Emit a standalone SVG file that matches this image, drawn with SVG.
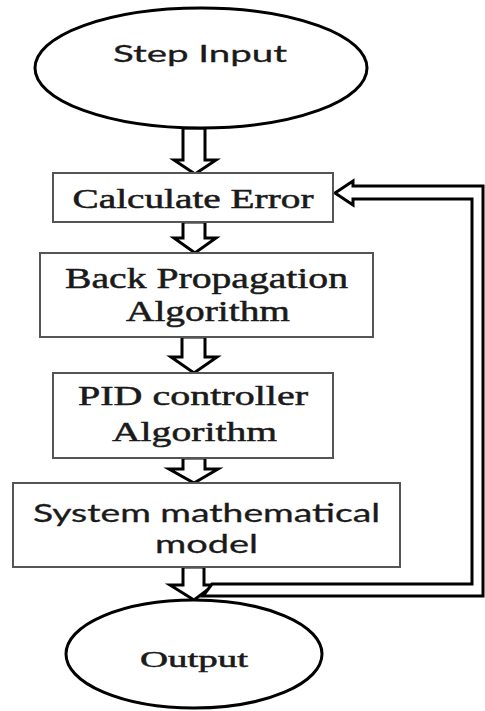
<svg xmlns="http://www.w3.org/2000/svg" width="485" height="711" viewBox="0 0 485 711">
<style>
.term{fill:#fff;stroke:#000;stroke-width:3}
.box{fill:#fff;stroke:#555;stroke-width:2}
.blk{fill:#fff;stroke:#000;stroke-width:3;stroke-linejoin:miter}
.serif{font-family:"Liberation Serif","Times New Roman",serif;fill:#1a1a1a;stroke:#1a1a1a;stroke-width:0.5;text-anchor:middle}
.sans{font-family:Lato,"Open Sans","Liberation Sans",sans-serif;fill:#1a1a1a;stroke:#1a1a1a;stroke-width:0.3;text-anchor:middle}
</style>
<rect width="485" height="711" fill="#fff"/>
<g id="connectors">
<polygon class="blk" points="183,128 205,128 205,160 216,160 195,174 174,160 183,160"/>
<polygon class="blk" points="183,222 205,222 205,238 216,238 195,253 174,238 183,238"/>
<polygon class="blk" points="182,337 205,337 205,357 217,357 194,373 171,357 182,357"/>
<polygon class="blk" points="183,458 205,458 205,469 218,469 194,483 169,469 183,469"/>
<polygon class="blk" points="183,567 204,567 204,585 214,585 194,600 170,585 183,585"/>
<path class="blk" d="M335,193 L353,181 L353,186 L483,186 L483,596 L203,596 L212,584 L472,584 L472,199 L353,199 L353,205 Z"/>
</g>
<g id="step-input">
<ellipse class="term" cx="201" cy="68" rx="166" ry="60"/>
<text class="sans" x="200" y="62" font-size="24" textLength="174" lengthAdjust="spacingAndGlyphs">Step Input</text>
</g>
<g id="calculate-error">
<rect class="box" x="53" y="173" width="280" height="49"/>
<text class="serif" x="193" y="208" font-size="27" textLength="241" lengthAdjust="spacingAndGlyphs">Calculate Error</text>
</g>
<g id="back-propagation">
<rect class="box" x="40" y="253" width="333" height="84"/>
<text class="serif" x="206.5" y="288" font-size="29" textLength="283" lengthAdjust="spacingAndGlyphs">Back Propagation</text>
<text class="serif" x="208" y="321" font-size="29" textLength="164" lengthAdjust="spacingAndGlyphs">Algorithm</text>
</g>
<g id="pid-controller">
<rect class="box" x="53" y="373" width="280" height="85"/>
<text class="serif" x="193" y="405" font-size="28" textLength="230" lengthAdjust="spacingAndGlyphs">PID controller</text>
<text class="serif" x="194.5" y="441" font-size="28" textLength="165" lengthAdjust="spacingAndGlyphs">Algorithm</text>
</g>
<g id="system-model">
<rect class="box" x="13" y="483" width="387" height="84"/>
<text class="sans" x="206.5" y="522" font-size="25" textLength="347" lengthAdjust="spacingAndGlyphs">System mathematical</text>
<text class="sans" x="206.5" y="553" font-size="25" textLength="103" lengthAdjust="spacingAndGlyphs">model</text>
</g>
<g id="output">
<ellipse class="term" cx="194" cy="654" rx="128" ry="54"/>
<text class="serif" x="194" y="667" font-size="23" textLength="108" lengthAdjust="spacingAndGlyphs">Output</text>
</g>
</svg>
